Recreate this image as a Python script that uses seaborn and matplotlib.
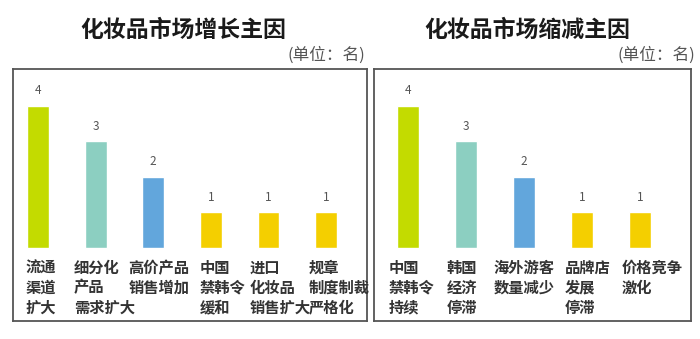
import matplotlib
matplotlib.use("Agg")
import matplotlib.pyplot as plt
import seaborn as sns
import pandas as pd

sns.set_theme(style="white")
plt.rcParams['font.family'] = ['Noto Sans CJK SC', 'DejaVu Sans']

left_title = "化妆品市场增长主因"
right_title = "化妆品市场缩减主因"
unit_text = "(单位：名)"

left_categories = ["流通\n渠道\n扩大", "细分化\n产品\n需求扩大", "高价产品\n销售增加",
                   "中国\n禁韩令\n缓和", "进口\n化妆品\n销售扩大", "规章\n制度制裁\n严格化"]
left_values = [4, 3, 2, 1, 1, 1]

right_categories = ["中国\n禁韩令\n持续", "韩国\n经济\n停滞", "海外游客\n数量减少",
                    "品牌店\n发展\n停滞", "价格竞争\n激化"]
right_values = [4, 3, 2, 1, 1]

# label left-edge offsets from bar centre (in category units), layout only
left_label_shift = [-0.21, -0.38, -0.43, -0.19, -0.33, -0.30]
right_label_shift = [-0.33, -0.33, -0.53, -0.29, -0.31]

value_colors = {4: "#C3DB00", 3: "#8CCFC1", 2: "#62A6DC", 1: "#F4CF00"}

fig = plt.figure(figsize=(7, 3.39), dpi=100)

def panel(rect, cats, vals, shifts, xlim):
    ax = fig.add_axes(rect)
    df = pd.DataFrame({"cat": cats, "val": vals})
    pal = [value_colors[v] for v in vals]
    sns.barplot(data=df, x="cat", y="val", hue="cat", palette=pal, legend=False,
                width=0.38, ax=ax, saturation=1)
    ax.set_xlim(*xlim)
    ax.set_ylim(-2.06, 5.04)
    ax.set_xticks([])
    ax.set_yticks([])
    ax.set_xlabel("")
    ax.set_ylabel("")
    for s in ax.spines.values():
        s.set_visible(True)
        s.set_color("#555555")
        s.set_linewidth(1.3)
    for i, v in enumerate(vals):
        ax.text(i, v + 0.25, str(v), ha="center", va="bottom", fontsize=8.5, color="#555555")
        for j, line in enumerate(cats[i].split("\n")):
            ax.text(i + shifts[i], -0.56 - 0.56 * j, line, ha="left", va="center",
                    fontsize=11, color="#333333", fontweight="bold")
    return ax

panel([13/700, 1 - 321/339, 354/700, 252/339], left_categories, left_values,
      left_label_shift, (-0.434, 5.71))
panel([374/700, 1 - 321/339, 317/700, 252/339], right_categories, right_values,
      right_label_shift, (-0.586, 4.88))

fig.text(183/700, 1 - 30/339, left_title, ha="center", va="center", fontsize=16.5,
         fontweight="bold", color="#1a1a1a")
fig.text(527/700, 1 - 30/339, right_title, ha="center", va="center", fontsize=16.5,
         fontweight="bold", color="#1a1a1a")
fig.text(365/700, 1 - 55/339, unit_text, ha="right", va="center", fontsize=12, color="#555555")
fig.text(695/700, 1 - 55/339, unit_text, ha="right", va="center", fontsize=12, color="#555555")

fig.savefig("out.png", dpi=100)
